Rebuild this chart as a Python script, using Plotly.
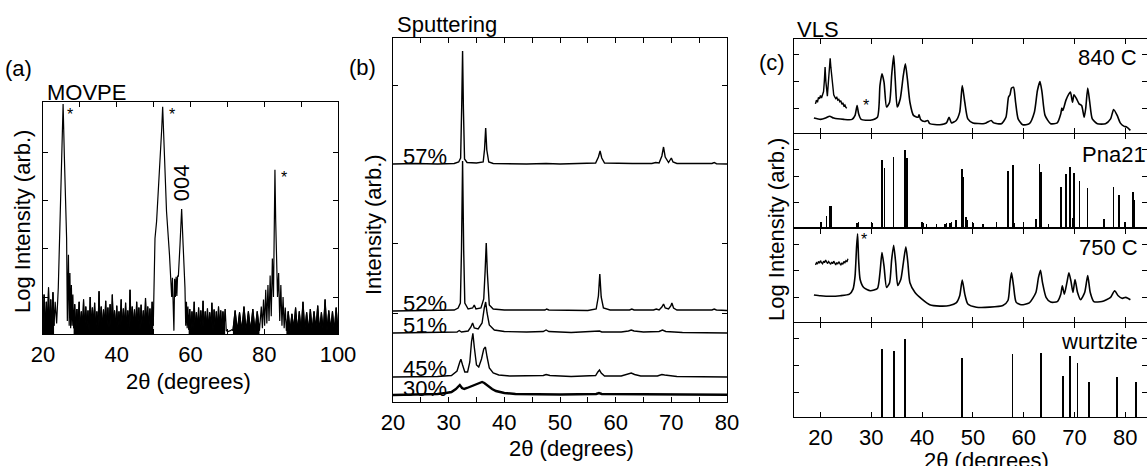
import plotly.graph_objects as go

W, H = 1147, 466
FONT = "Liberation Sans, Arial, Helvetica, sans-serif"
FS = 22

# ================= DATA =================
# ---- Panel (a) MOVPE, log intensity (decades), 2theta in degrees ----
# noisy background segments: (start angle, step, values)
a_noise1 = (20.0, 0.3, [0.35, 1.05, 0.3, 0.9, 0.4, 1.2, 0.3, 0.95, 0.35, 1.1, 0.4])
a_peak1_x = [23.3, 23.7, 24.15, 24.8, 25.45, 25.8, 26.4, 26.6, 26.9, 27.1, 27.3, 27.5, 27.7, 27.9, 28.1]
a_peak1_y = [0.9, 0.45, 1.2, 3.1, 5.02, 3.9, 2.23, 0.5, 1.88, 0.4, 1.5, 0.35, 1.25, 0.4, 1.05]
a_noise2 = (28.3, 0.3, [0.35, 0.85, 0.3, 0.75, 0.4, 0.9, 0.32, 0.7, 0.35, 0.95, 0.3, 0.8,
                        0.38, 0.72, 0.3, 1.0, 0.35, 0.78, 0.4, 0.88, 0.3, 0.7, 0.33, 1.12,
                        0.35, 0.8, 0.3, 0.74, 0.4, 0.92, 0.32, 0.78, 0.35, 0.85, 0.3, 1.05,
                        0.38, 0.72, 0.3, 0.82, 0.35, 0.7, 0.4, 0.95, 0.3, 0.76, 0.35, 0.88,
                        0.32, 0.72, 0.3, 1.15, 0.38, 0.8, 0.35, 0.74, 0.3, 0.9, 0.4, 0.78,
                        0.32, 0.84, 0.35, 0.72, 0.3, 0.98, 0.38, 0.8, 0.35, 0.76, 0.3, 0.9, 0.4])
a_peak2_x = [50.1, 50.37, 50.8, 51.5, 52.2, 52.45, 52.8, 53.5, 54.3, 54.7, 54.9, 55.1, 55.3, 55.5,
             55.7, 55.9, 56.1, 56.3, 56.5, 56.7, 57.15, 57.6, 58.0, 58.5, 58.7, 58.9, 59.1, 59.3]
a_peak2_y = [1.3, 2.22, 2.57, 3.47, 4.51, 4.96, 4.17, 2.78, 1.88, 1.42, 1.0, 1.4, 1.0, 0.3,
             1.38, 1.0, 1.42, 1.02, 1.45, 1.42, 2.08, 2.83, 2.08, 1.19, 0.4, 0.9, 0.35, 0.8]
a_noise3 = (59.5, 0.3, [0.32, 0.75, 0.3, 0.7, 0.35, 0.9, 0.3, 0.68, 0.33, 0.78, 0.3, 0.72,
                        0.35, 0.92, 0.3, 0.7, 0.32, 0.76, 0.3, 0.68, 0.35, 0.88, 0.3, 0.74,
                        0.33, 0.7, 0.3, 0.8, 0.35, 0.72, 0.3, 0.7, 0.33, 0.75])
a_gap_x = [69.7, 70.2, 70.8, 71.2]
a_gap_y = [0.3, 0.28, 0.3, 0.32]
a_noise4 = (71.5, 0.6, [0.3, 0.72, 0.3, 0.68, 0.3, 0.8, 0.3, 0.7, 0.3, 0.75, 0.3, 0.7, 0.3])
a_peak3_x = [79.2, 79.5, 79.8, 80.1, 80.4, 80.7, 81.0, 81.3, 81.6, 81.9, 82.2, 82.5, 82.7, 82.9,
             83.1, 83.3, 83.6, 83.9, 84.2, 84.5, 84.8, 85.1, 85.4, 85.7]
a_peak3_y = [0.8, 0.35, 0.95, 0.4, 1.15, 0.45, 1.25, 0.5, 1.45, 0.6, 1.8, 1.0, 2.8, 3.65,
             2.6, 1.8, 1.0, 1.5, 0.5, 1.25, 0.4, 1.0, 0.35, 0.78]
a_noise5 = (86.0, 0.5, [0.3, 0.7, 0.3, 0.65, 0.35, 0.78, 0.3, 0.7, 0.3, 0.9, 0.32, 0.68,
                        0.3, 0.75, 0.3, 0.7, 0.35, 0.82, 0.3, 0.68, 0.3, 0.95, 0.3, 0.72,
                        0.33, 0.7, 0.3, 0.78, 0.3])
a_star_x = [27.3, 55.0, 85.4]
a_star_y = [4.79, 4.79, 3.48]
a_tick_vals = [20, 30, 40, 50, 60, 70, 80, 90, 100]
a_tick_text = ["20", "", "40", "", "60", "", "80", "", "100"]

# ---- Panel (b) Sputtering: intensity above each pattern's baseline ----
b_57_x = [20, 24, 28, 31.0, 31.8, 32.15, 32.35, 32.5, 32.65, 32.85, 33.3, 34.5, 35.0, 36.2, 36.45,
          36.65, 36.85, 37.2, 38, 44, 47.5, 50, 56.4, 56.9, 57.2, 57.5, 58.0, 63, 66.5, 67.2,
          67.8, 68.3, 68.6, 68.9, 69.5, 70.0, 70.3, 71, 77.3, 77.7, 78.1, 80]
b_57_y = [0, 0.5, 0, 0.5, 2, 6, 60, 113, 55, 5, 1.5, 1.5, 1, 2, 15,
          36, 14, 2, 0.5, 0, 0.5, 0, 1, 7, 13, 6, 1, 0.5, 0.5, 1.5,
          1, 8, 17, 7, 1.5, 6, 2, 0.5, 0.5, 1.5, 0.3, 0]
b_52_x = [20, 28, 31.0, 31.7, 32.1, 32.3, 32.5, 32.7, 32.9, 33.5, 34.3, 34.6, 34.9, 35.8, 36.3,
          36.55, 36.75, 36.95, 37.3, 38.0, 40, 47.3, 47.6, 48, 55, 56.5, 56.9, 57.15, 57.4, 57.8,
          59, 62.5, 62.9, 63.3, 66.8, 67.3, 67.8, 68.3, 68.6, 68.9, 69.5, 69.9, 70.1, 70.4, 71,
          77.3, 77.7, 78.1, 80]
b_52_y = [0, 0.5, 1, 3, 8, 60, 150, 60, 8, 2, 3, 6, 2, 3, 12,
          40, 68, 38, 6, 2, 1, 1, 2, 1, 0.5, 2, 15, 37, 14, 3,
          1, 1, 2, 1, 1, 2, 1, 4, 7, 3, 2, 5, 8, 3, 1,
          1, 2, 1, 0.5]
b_51_x = [20, 30, 31.5, 31.9, 32.3, 33.5, 34.0, 34.3, 34.6, 35.3, 36.0, 36.4, 36.65, 36.9, 37.3,
          38.2, 40, 44, 47.0, 47.5, 48.0, 52, 56.8, 57.1, 57.5, 61, 62.3, 62.8, 63.3, 65,
          67.8, 68.4, 69.0, 72, 80]
b_51_y = [0, 0.5, 1, 2.5, 1, 2, 6, 10, 5, 4, 10, 25, 31, 20, 8,
          3, 1.5, 1, 1.5, 3, 1.5, 0.5, 1.5, 2, 1, 1, 2, 3, 2, 1,
          1.5, 3, 1.5, 0.5, 0]
b_45_x = [20, 28, 30.5, 31.5, 32.0, 32.2, 32.5, 32.9, 33.4, 33.8, 34.1, 34.35, 34.6, 35.0, 35.4,
          35.9, 36.3, 36.6, 36.9, 37.3, 38, 39, 41, 45, 47.0, 47.5, 48.2, 52, 56.4, 56.8,
          57.1, 57.4, 58, 61, 62.2, 62.8, 63.4, 64.5, 67.5, 68.3, 68.8, 69.5, 71, 80]
b_45_y = [0, 0.5, 1.5, 6, 15, 17.7, 12, 5, 5, 15, 35, 43.7, 30, 12, 10,
          18, 28, 30, 20, 9, 4, 2, 1, 1, 1.5, 2.5, 1.5, 0.5, 1.5, 5,
          7, 4, 1, 1, 2.5, 4, 2.5, 1, 1, 2.5, 2, 1.5, 0.5, 0]
b_30_x = [20, 25, 28, 29.5, 30.5, 31.3, 31.7, 32.0, 32.4, 32.8, 33.3, 33.8, 34.2, 34.7, 35.2,
          35.6, 36.0, 36.4, 36.8, 37.3, 37.8, 38.5, 39.2, 40, 42, 45, 50, 56.5, 57, 57.5,
          62, 62.8, 63.5, 70, 80]
b_30_y = [0, 0.5, 1, 2, 3, 6, 9, 10, 7, 6, 7, 8, 9, 10, 11,
          12, 13, 12, 10, 8, 6, 4, 3, 2, 1, 0.8, 0.5, 1, 2, 1,
          0.8, 1.5, 0.8, 0.5, 0.3]
b_labels = ["57%", "52%", "51%", "45%", "30%"]
b_offsets = [238, 91, 69, 25, 7]
b_label_y = [246, 99, 77, 34, 14]
b_tick_vals = [20, 25, 30, 35, 40, 45, 50, 55, 60, 65, 70, 75, 80]
b_tick_text = ["20", "", "30", "", "40", "", "50", "", "60", "", "70", "", "80"]

# ---- Panel (c) VLS: log intensity, 2theta in degrees ----
c840_x = [18.7, 20.0, 21.0, 21.8, 22.6, 24.6, 26.2, 26.8, 27.2, 27.5, 28.0, 29.8, 31.2, 31.7, 32.1,
          32.5, 33.0, 33.6, 34.0, 34.4, 34.7, 35.1, 35.7, 36.3, 36.7, 37.1, 37.6, 38.3, 39.2, 39.4,
          39.7, 40.5, 41.1, 41.5, 43.5, 44.8, 45.3, 45.8, 46.7, 47.4, 47.9, 48.4, 49.0, 50.0, 52.0,
          52.6, 53.6, 54.1, 55.6, 56.5, 57.0, 57.3, 57.6, 58.0, 58.4, 58.9, 59.8, 61.1, 62.1, 62.7,
          63.2, 63.6, 64.2, 65.3, 66.6, 67.3, 67.5, 67.7, 68.3, 68.9, 69.2, 69.6, 69.9, 70.4, 70.9,
          71.4, 71.9, 72.2, 72.6, 73.0, 73.5, 74.5, 76.1, 77.1, 77.7, 78.4, 79.0, 79.7, 80.3, 81.0]
c840_y = [-0.37, -0.42, -0.37, -0.30, -0.37, -0.42, -0.42, -0.27, 0.10, -0.21, -0.42, -0.45, -0.34, 0.84, 1.28,
          0.97, 0.04, 0.22, 1.22, 1.96, 1.09, 0.04, 0.35, 1.22, 1.65, 1.09, 0.22, -0.27, -0.34, -0.25,
          -0.42, -0.50, -0.46, -0.58, -0.62, -0.55, -0.34, -0.55, -0.46, -0.15, 0.84, 0.22, -0.40, -0.55, -0.58,
          -0.55, -0.46, -0.55, -0.58, -0.34, 0.41, 0.50, 0.75, 0.78, 0.22, -0.40, -0.62, -0.58, -0.15, 0.66,
          0.99, 0.60, -0.27, -0.58, -0.55, -0.21, 0.0, -0.09, 0.29, 0.53, 0.60, 0.22, 0.50, 0.35, 0.16,
          0.10, -0.34, -0.02, 0.75, 0.22, -0.40, -0.58, -0.58, -0.40, -0.05, -0.27, -0.55, -0.67, -0.71, -0.83]
c840_inset_x = [19.0, 19.2, 19.4, 19.6, 19.8, 20.0, 20.2, 20.4, 20.6, 20.75, 20.9, 21.05, 21.2, 21.35,
                21.5, 21.7, 21.9, 22.05, 22.2, 22.4, 22.6, 22.8, 23.0, 23.2, 23.4, 23.6, 23.8, 24.0,
                24.2, 24.4, 24.6, 24.8, 25.0, 25.2]
c840_inset_y = [0.16, 0.30, 0.22, 0.40, 0.35, 0.47, 0.38, 0.55, 0.62, 1.0, 1.53, 1.0, 0.6, 0.45,
                0.85, 1.40, 1.86, 1.5, 1.15, 0.75, 0.5, 0.42, 0.36, 0.40, 0.30, 0.33, 0.24, 0.28,
                0.14, 0.20, 0.08, 0.12, 0.02, 0.0]
pna_pos = [20.1, 21.2, 21.8, 22.1, 27.2, 27.5, 30.1, 32.1, 32.6, 34.4, 36.6, 37.0, 39.9, 40.3, 40.9,
           42.8, 44.5, 44.8, 45.5, 45.8, 46.7, 47.9, 48.1, 48.6, 48.8, 50.0, 52.0, 54.6, 56.9, 57.9,
           58.2, 62.4, 63.1, 63.4, 64.9, 67.3, 68.3, 69.1, 69.7, 69.9, 71.0, 72.6, 75.8, 77.7, 78.8,
           79.9, 81.5, 81.8]
pna_top = [-0.71, -0.50, -0.12, -0.12, -0.75, -0.71, -0.75, 1.61, 1.32, 1.74, 2.00, 1.69, -0.71, -0.75, -0.80,
           -0.80, -0.78, -0.75, -0.75, -0.73, -0.65, 1.28, 0.97, -0.55, -0.65, -0.75, -0.80, -0.71, 1.18, 1.44,
           -0.75, -0.62, 1.47, 1.16, -0.80, 0.60, 1.07, 1.34, -0.58, 1.12, 0.82, 0.57, -0.62, 0.60, 0.29,
           -0.71, 0.40, 0.12]
c750_x = [18.7, 20.0, 21.9, 23.9, 25.7, 26.4, 26.8, 27.1, 27.3, 27.5, 27.8, 28.5, 29.8, 31.2, 31.7,
          32.1, 32.5, 33.0, 33.6, 34.0, 34.4, 34.8, 35.2, 35.8, 36.3, 36.8, 37.2, 37.6, 38.6, 39.9,
          41.5, 43.5, 45.4, 46.7, 47.4, 47.9, 48.4, 49.0, 50.7, 53.3, 55.9, 56.9, 57.3, 57.6, 58.0,
          58.5, 59.5, 61.1, 62.4, 62.9, 63.3, 63.7, 64.4, 65.3, 66.6, 67.3, 67.6, 68.0, 68.5, 68.9,
          69.3, 69.7, 70.1, 70.6, 71.2, 72.0, 72.6, 73.1, 73.8, 75.4, 77.1, 77.9, 78.6, 79.4, 80.1, 81.0]
c750_y = [0.09, 0.06, 0.04, 0.06, 0.12, 0.31, 0.80, 1.90, 2.39, 1.41, 0.67, 0.37, 0.25, 0.33, 0.92,
          1.68, 1.17, 0.37, 0.55, 1.41, 1.96, 1.29, 0.45, 0.67, 1.29, 1.90, 1.29, 0.55, 0.18, -0.06,
          -0.28, -0.33, -0.31, -0.21, 0.06, 0.65, 0.12, -0.25, -0.37, -0.37, -0.31, -0.12, 0.55, 0.92, 0.43,
          -0.18, -0.28, -0.21, 0.18, 0.74, 1.02, 0.55, 0.0, -0.18, -0.16, 0.12, 0.43, 0.12, 0.55, 0.92,
          0.61, 0.18, 0.67, 0.18, -0.09, 0.18, 0.82, 0.18, -0.16, -0.16, 0.0, 0.25, 0.06, -0.04, 0.0, -0.09]
c750_inset = (19.0, 0.2, [1.22, 1.30, 1.25, 1.35, 1.28, 1.38, 1.30, 1.26, 1.36, 1.30, 1.40, 1.32,
                          1.27, 1.35, 1.29, 1.24, 1.33, 1.26, 1.36, 1.28, 1.22, 1.31, 1.25, 1.34,
                          1.27, 1.21, 1.30, 1.24, 1.35, 1.30, 1.38, 1.33, 1.45])
wz_pos = [32.1, 34.4, 36.6, 47.9, 57.8, 63.4, 67.8, 69.1, 70.6, 72.9, 78.3, 82.1]
wz_top = [1.63, 1.53, 2.00, 1.29, 1.44, 1.45, 0.61, 1.37, 1.10, 0.40, 0.59, 0.39]
c_labels = ["840 C", "Pna21", "750 C", "wurtzite"]
c_tick_vals = [20, 30, 40, 50, 60, 70, 80]

# ================= FIGURE =================
def seg(noise):
    start, step, vals = noise
    return [start + step * i for i in range(len(vals))], list(vals)

a_x, a_y = [], []
for part in [seg(a_noise1), (a_peak1_x, a_peak1_y), seg(a_noise2), (a_peak2_x, a_peak2_y),
             seg(a_noise3), (a_gap_x, a_gap_y), seg(a_noise4), (a_peak3_x, a_peak3_y), seg(a_noise5)]:
    a_x += list(part[0])
    a_y += list(part[1])

fig = go.Figure()
BLK = "black"
LW = 1.4
# noise bands of panel (a) drawn as filled black regions under their jagged tops
for nz in [a_noise1, a_noise2, a_noise3, a_noise4, a_noise5]:
    nx, ny = seg(nz)
    fig.add_trace(go.Scatter(x=nx, y=ny, mode="lines", line=dict(color=BLK, width=1), fill="tozeroy",
                             fillcolor=BLK, xaxis="x", yaxis="y", showlegend=False, hoverinfo="skip"))
fig.add_trace(go.Scatter(x=a_x, y=a_y, mode="lines", line=dict(color=BLK, width=1.2),
                         xaxis="x", yaxis="y", showlegend=False, hoverinfo="skip"))

b_series = [(b_57_x, b_57_y), (b_52_x, b_52_y), (b_51_x, b_51_y), (b_45_x, b_45_y), (b_30_x, b_30_y)]
for (bx, by), off, lab in zip(b_series, b_offsets, b_labels):
    fig.add_trace(go.Scatter(x=bx, y=[off + v for v in by], mode="lines",
                             line=dict(color=BLK, width=2.4 if lab == "30%" else 1.4),
                             xaxis="x2", yaxis="y2", showlegend=False, name=lab))

Y_BOT, Y_TOP = -0.92, 2.58
fig.add_trace(go.Scatter(x=c840_x, y=c840_y, mode="lines", line=dict(color=BLK, width=1.6, shape="spline", smoothing=0.6),
                         xaxis="x3", yaxis="y3", showlegend=False))
fig.add_trace(go.Scatter(x=c840_inset_x, y=c840_inset_y, mode="lines", line=dict(color=BLK, width=1.4),
                         xaxis="x3", yaxis="y3", showlegend=False))
fig.add_trace(go.Bar(x=pna_pos, y=[t - Y_BOT for t in pna_top], base=Y_BOT, width=0.3,
                     marker=dict(color=BLK, line=dict(width=0)), xaxis="x4", yaxis="y4", showlegend=False))
fig.add_trace(go.Scatter(x=c750_x, y=c750_y, mode="lines", line=dict(color=BLK, width=1.6, shape="spline", smoothing=0.6),
                         xaxis="x5", yaxis="y5", showlegend=False))
ix, iy = seg(c750_inset)
fig.add_trace(go.Scatter(x=ix, y=iy, mode="lines", line=dict(color=BLK, width=1.3),
                         xaxis="x5", yaxis="y5", showlegend=False))
fig.add_trace(go.Bar(x=wz_pos, y=[t - Y_BOT for t in wz_top], base=Y_BOT, width=0.34,
                     marker=dict(color=BLK, line=dict(width=0)), xaxis="x6", yaxis="y6", showlegend=False))


def ax(**kw):
    d = dict(showline=True, linecolor=BLK, linewidth=LW, mirror="ticks", ticks="inside", ticklen=5,
             tickwidth=1, tickcolor=BLK, showgrid=False, zeroline=False, automargin=False,
             fixedrange=True, tickfont=dict(family=FONT, size=FS, color=BLK))
    d.update(kw)
    return d


def py(p):
    return 1 - p / H


def pxx(p):
    return p / W

c_bounds = [39, 133.5, 228, 322.5, 417]
layout = dict(
    width=W, height=H, margin=dict(l=0, r=0, t=0, b=0, pad=0),
    paper_bgcolor="white", plot_bgcolor="white", showlegend=False, bargap=0,
    font=dict(family=FONT, size=FS, color=BLK),
    xaxis=ax(domain=[pxx(43), pxx(338)], range=[20, 100], tickvals=a_tick_vals, ticktext=a_tick_text, anchor="y"),
    yaxis=ax(domain=[py(334), py(102)], range=[0.23, 5.06], tickvals=[1, 2, 3, 4], showticklabels=False, anchor="x"),
    xaxis2=ax(domain=[pxx(393), pxx(727)], range=[20, 80], tickvals=b_tick_vals, ticktext=b_tick_text, anchor="y2"),
    yaxis2=ax(domain=[py(402), py(38)], range=[0, 364], tickvals=[89, 159, 317], showticklabels=False, anchor="x2"),
)
for i in range(4):
    n = i + 3
    top_px = c_bounds[i] + (LW / 2 if i > 0 else 0)          # shared divider lines coincide
    bot_px = c_bounds[i + 1] - (LW / 2 if i < 3 else 0)
    layout[f"xaxis{n}"] = ax(domain=[pxx(794), 1.0], range=[14.78, 84.27], tickvals=c_tick_vals,
                             showticklabels=(i == 3), anchor=f"y{n}")
    layout[f"yaxis{n}"] = ax(domain=[py(bot_px), py(top_px)], range=[Y_BOT, Y_TOP],
                             tickvals=[0, 1, 2], showticklabels=False, anchor=f"x{n}")

ann = []


def txt(t, x, y, xanchor="left", angle=0, size=FS, xref="paper", yref="paper"):
    ann.append(dict(text=t, x=x, y=y, xref=xref, yref=yref, xanchor=xanchor, yanchor="middle",
                    textangle=angle, showarrow=False, font=dict(family=FONT, size=size, color=BLK)))

# panel titles / letters (pixel positions)
txt("(a)", pxx(3), py(68))
txt("MOVPE", pxx(45), py(92))
txt("(b)", pxx(347), py(67))
txt("Sputtering", pxx(395), py(25))
txt("(c)", pxx(757), py(62))
txt("VLS", pxx(795), py(29))
# axis titles
txt("Log Intensity (arb.)", pxx(22), py(222), xanchor="center", angle=-90)
txt("Intensity (arb.)", pxx(373), py(225), xanchor="center", angle=-90)
txt("Log Intensity (arb.)", pxx(776), py(230), xanchor="center", angle=-90)
txt("2θ (degrees)", pxx(188), py(381), xanchor="center")
txt("2θ (degrees)", pxx(571), py(448), xanchor="center")
txt("2θ (degrees)", pxx(986), py(460), xanchor="center")
# panel (a) markers
for sx, sy in zip(a_star_x, a_star_y):
    txt("*", sx, sy, xanchor="center", size=16, xref="x", yref="y")
txt("004", 57.8, 3.375, xanchor="center", angle=-90, xref="x", yref="y")
# panel (b) labels
for lab, ly in zip(b_labels, b_label_y):
    txt(lab, 30.1, ly, xanchor="right", xref="x2", yref="y2")
# panel (c) labels
txt("840 C", pxx(1139), py(58), xanchor="right")
txt("Pna21", pxx(1080), py(155), xanchor="left")
txt("750 C", pxx(1140), py(247), xanchor="right")
txt("wurtzite", pxx(1140), py(341), xanchor="right")
txt("*", 29.0, 0.10, xanchor="center", size=16, xref="x3", yref="y3")
txt("*", 28.6, 2.17, xanchor="center", size=16, xref="x5", yref="y5")

layout["annotations"] = ann
fig.update_layout(**layout)
fig.write_html("out.html", config={"displayModeBar": False, "staticPlot": True},
               post_script="document.body.style.margin='0px';document.body.style.padding='0px';document.body.style.overflow='hidden';")
